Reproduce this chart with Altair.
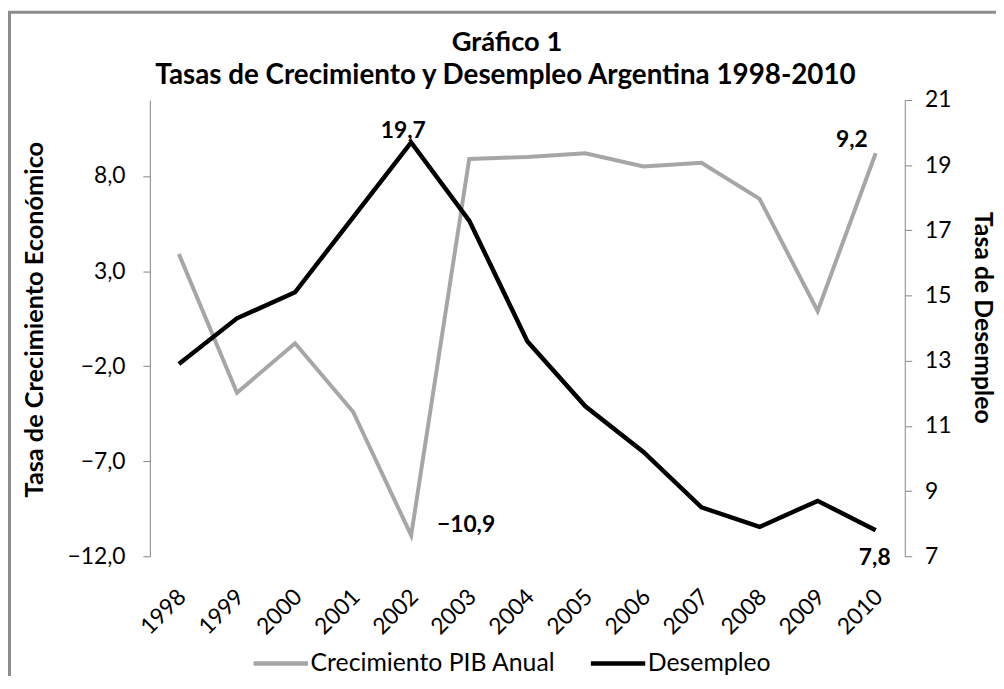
import altair as alt
import pandas as pd

years = ["1998", "1999", "2000", "2001", "2002", "2003", "2004",
         "2005", "2006", "2007", "2008", "2009", "2010"]
gdp = [3.9, -3.4, -0.8, -4.4, -10.9, 8.9, 9.0, 9.2, 8.5, 8.7, 6.8, 0.9, 9.2]
unemp = [12.9, 14.3, 15.1, 17.4, 19.7, 17.3, 13.6, 11.6, 10.2, 8.5, 7.9, 8.7, 7.8]
left_ticks = [-12, -7, -2, 3, 8]
right_ticks = [7, 9, 11, 13, 15, 17, 19, 21]
series_names = ["Crecimiento PIB Anual", "Desempleo"]
series_colors = ["#a6a6a6", "#000000"]
title_lines = ["Gráfico 1", "Tasas de Crecimiento y Desempleo Argentina 1998-2010"]

df = pd.DataFrame({"year": years, "gdp": gdp, "unemp": unemp})
one = pd.DataFrame({"k": [0]})

FONT = "Lato"
AX = "#868686"

X = alt.X("year:O", sort=years, scale=alt.Scale(type="point", padding=0.5),
          axis=alt.Axis(title=None, labelAngle=315, labelAlign="right",
                        labelBaseline="middle", ticks=False, domain=False,
                        labelPadding=37, labelOffset=3, labelFontSize=23,
                        labelFont=FONT, labelColor="#000"))

Y_gdp = alt.Y("gdp:Q", scale=alt.Scale(domain=[-12, 12], nice=False, zero=False),
              axis=alt.Axis(orient="left", values=left_ticks,
                            labelExpr="replace(format(datum.value,'.1f'),'.',',')",
                            title="Tasa de Crecimiento Económico", grid=False,
                            domainColor=AX, tickColor=AX, tickSize=7,
                            labelPadding=18, labelFontSize=23, labelFont=FONT,
                            labelColor="#000", titleFont=FONT, titleFontSize=25.5,
                            titleFontWeight="bold", titleColor="#000",
                            titleAngle=270, titleAlign="center",
                            titleBaseline="middle", titleX=-116, titleY=221))

Y_un = alt.Y("unemp:Q", scale=alt.Scale(domain=[7, 21], nice=False, zero=False),
             axis=alt.Axis(orient="right", values=right_ticks, format="d",
                           title="Tasa de Desempleo", grid=False,
                           domainColor=AX, tickColor=AX, tickSize=7,
                           labelPadding=13, labelFontSize=23, labelFont=FONT,
                           labelColor="#000", titleFont=FONT, titleFontSize=25,
                           titleFontWeight="bold", titleColor="#000",
                           titleAngle=90, titleAlign="center",
                           titleBaseline="middle", titleX=78, titleY=219))

legend = alt.Legend(orient="none", legendX=102, legendY=538, direction="horizontal",
                    title=None, symbolType="stroke", symbolStrokeWidth=4.5,
                    symbolSize=3000, labelFontSize=25, labelFont=FONT,
                    labelColor="#000", columnPadding=25, labelOffset=0,
                    labelLimit=500)
COLOR = alt.Color("series:N", scale=alt.Scale(domain=series_names, range=series_colors),
                  legend=legend)

base = alt.Chart(df)

gdp_line = base.transform_calculate(series=f"'{series_names[0]}'").mark_line(
    strokeWidth=4).encode(x=X, y=Y_gdp, color=COLOR)
un_line = base.transform_calculate(series=f"'{series_names[1]}'").mark_line(
    strokeWidth=4.5).encode(x=X, y=Y_un, color=COLOR)

lbl_gdp = "replace(format(datum.gdp,'.1f'),'.',',')"
lbl_un = "replace(format(datum.unemp,'.1f'),'.',',')"

def label(field_expr, year, y, **kw):
    return base.transform_filter(f"datum.year == '{year}'").transform_calculate(
        lbl=field_expr).mark_text(font=FONT, fontWeight="bold", fontSize=23,
                                  color="#000", **kw).encode(x=X, y=y, text="lbl:N")

gdp_l1 = label(lbl_gdp, "2002", Y_gdp, align="left", baseline="alphabetic", dx=26, dy=-3)
gdp_l2 = label(lbl_gdp, "2010", Y_gdp, align="right", baseline="alphabetic", dx=-8, dy=-6)
un_l1 = label(lbl_un, "2002", Y_un, align="center", baseline="alphabetic", dx=-8, dy=-4)
un_l2 = label(lbl_un, "2010", Y_un, align="center", baseline="alphabetic", dx=-1, dy=35)

border = alt.Chart(one).mark_rect(
    fillOpacity=0, stroke="#8c8c8c", strokeWidth=3).encode(
    x=alt.value(-141.5), x2=alt.value(1400), y=alt.value(-88.5), y2=alt.value(1000))

title1 = alt.Chart(one).mark_text(
    text=title_lines[0], font=FONT, fontSize=27.5, fontWeight="bold", color="#000",
    align="center", baseline="alphabetic").encode(x=alt.value(360), y=alt.value(-49))
title2 = alt.Chart(one).mark_text(
    text=title_lines[1], font=FONT, fontSize=28, fontWeight="bold", color="#000",
    align="center", baseline="alphabetic").encode(x=alt.value(358.5), y=alt.value(-16))

chart = alt.layer(
    border, title1, title2,
    alt.layer(gdp_line, gdp_l1, gdp_l2),
    alt.layer(un_line, un_l1, un_l2),
).resolve_scale(y="independent").properties(
    width=761, height=460,
    autosize=alt.AutoSizeParams(type="none"),
    padding={"left": 143, "top": 90, "right": 92, "bottom": 118},
).configure_view(stroke=None)

chart.save("out.html", embed_options={"renderer": "svg", "actions": False})
